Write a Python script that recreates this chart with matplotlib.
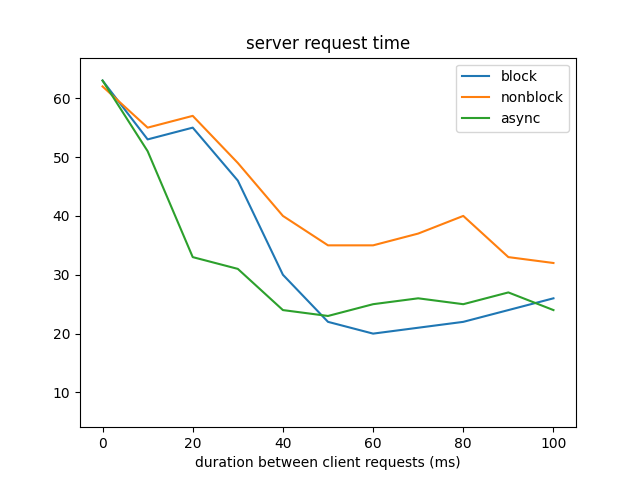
import matplotlib
matplotlib.use("Agg")
import matplotlib.pyplot as plt

durations = [0, 10, 20, 30, 40, 50, 60, 70, 80, 90, 100]
block = [63, 53, 55, 46, 30, 22, 20, 21, 22, 24, 26]
nonblock = [62, 55, 57, 49, 40, 35, 35, 37, 40, 33, 32]
async_times = [63, 51, 33, 31, 24, 23, 25, 26, 25, 27, 24]

fig, ax = plt.subplots(figsize=(6.4, 4.8), dpi=100)
ax.plot(durations, block, label="block")
ax.plot(durations, nonblock, label="nonblock")
ax.plot(durations, async_times, label="async")

ax.set_ylim(4.1, 66.9)
ax.set_xlabel("duration between client requests (ms)")
ax.set_title("server request time")
ax.legend()

fig.savefig("out.png", dpi=100)
